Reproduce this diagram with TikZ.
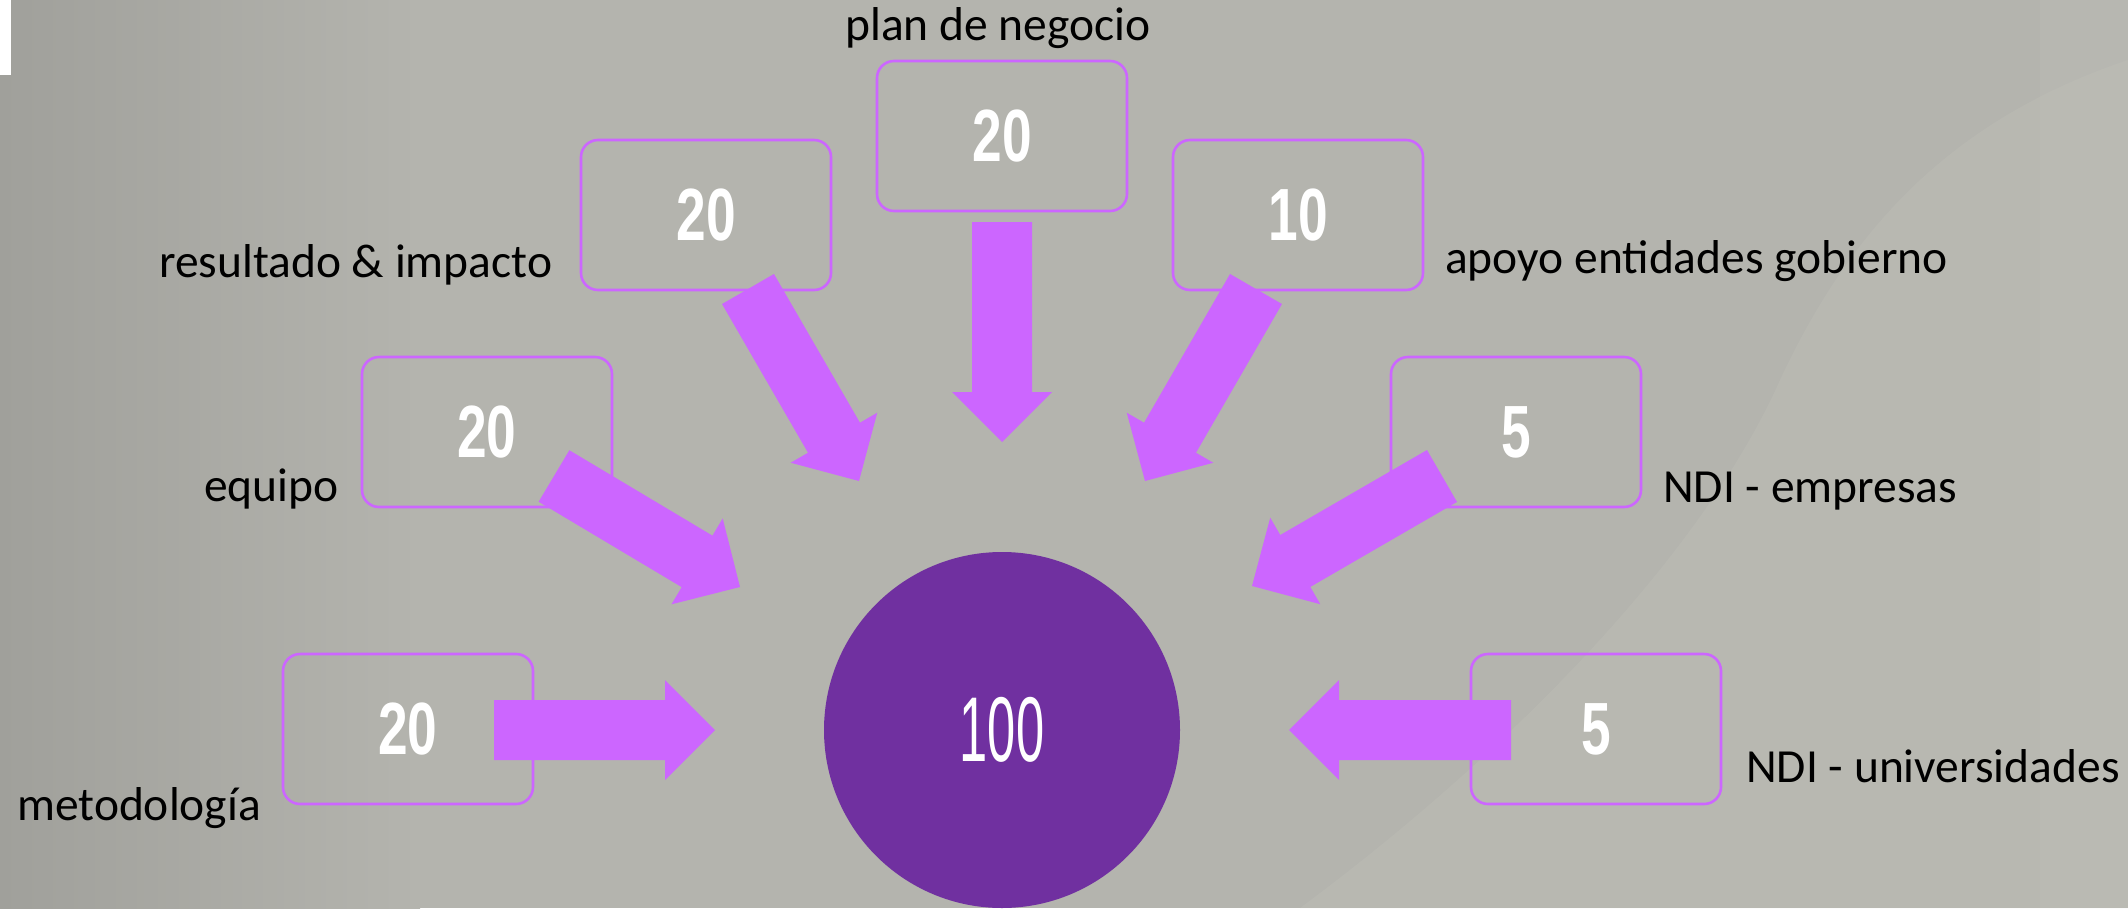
\documentclass[tikz,border=0pt]{standalone}
\usepackage{fontspec}
\setmainfont{Carlito}
\newfontfamily\boldnum[FakeStretch=0.72]{Liberation Sans}
\newfontfamily\thinnum[FakeStretch=0.55]{Liberation Sans}
\usetikzlibrary{calc}
\definecolor{violetline}{RGB}{204,102,255}
\definecolor{purplefill}{RGB}{112,48,160}
\definecolor{bgmid}{RGB}{180,180,174}
\definecolor{bgdark}{RGB}{160,160,155}
\definecolor{bglight}{RGB}{192,192,185}
\newcommand\blockarr[2]{%
  \coordinate (#1h) at ($(#2)!50pt!(#1)$);
  \fill[arrowfill] ($(#1)!30pt!90:(#2)$) -- ($(#1h)!30pt!-90:(#1)$) -- ($(#1h)!50pt!-90:(#1)$) -- (#2)
    -- ($(#1h)!50pt!90:(#1)$) -- ($(#1h)!30pt!90:(#1)$) -- ($(#1)!30pt!-90:(#2)$) -- cycle;}
\begin{document}
\begin{tikzpicture}[x=1pt,y=-1pt,
  scorebox/.style={draw=violetline, line width=2.6pt, rounded corners=17pt,
    minimum width=250pt, minimum height=150pt, inner sep=0pt, text=white,
    font=\boldnum\bfseries\fontsize{74}{80}\selectfont},
  arrowfill/.style={fill=violetline},
  total/.style={circle, fill=purplefill, minimum size=356pt, inner sep=0pt, text=white,
    font=\thinnum\fontsize{92}{100}\selectfont},
  label/.style={anchor=base west, inner sep=0pt, text=black,
    font=\fontsize{47.5}{57}\selectfont}]
% background
\fill[bgmid] (0,0) rectangle (2128,908);
\useasboundingbox (0,0) rectangle (2128,908);
\shade[left color=bgdark, right color=bgmid] (0,0) rectangle (420,908);
\fill[bglight, opacity=0.35] (1300,908) .. controls (1500,760) and (1700,560) .. (1780,380)
  .. controls (1850,230) and (1950,120) .. (2128,60) -- (2128,908) -- cycle;
\fill[bglight, opacity=0.3] (2040,0) rectangle (2128,908);
\fill[white] (0,0) rectangle (11,75);
% boxes
\node[scorebox] (bplan) at (1002,136) {20};
\node[scorebox] (bres) at (706,215) {20};
\node[scorebox] (bgov) at (1298,215) {10};
\node[scorebox] (beq) at (487,432) {20};
\node[scorebox] (bemp) at (1516,432) {5};
\node[scorebox] (bmet) at (408,729) {20};
\node[scorebox] (buni) at (1596,729) {5};
% total
\node[total] (tot) at (1002,730) {100};
% arrow ends
\coordinate (amet) at (494,730);  \coordinate (ametE) at (715,730);
\coordinate (aeq) at (554,476);   \coordinate (aeqE) at (740,587);
\coordinate (ares) at (748,289);  \coordinate (aresE) at (859,481);
\coordinate (aplan) at (1002,222); \coordinate (aplanE) at (1002,442);
\coordinate (agov) at (1256,289); \coordinate (agovE) at (1145,481);
\coordinate (aemp) at (1442,476); \coordinate (aempE) at (1252,586);
\coordinate (auni) at (1511,730); \coordinate (auniE) at (1289,730);
\blockarr{amet}{ametE}
\blockarr{aeq}{aeqE}
\blockarr{ares}{aresE}
\blockarr{aplan}{aplanE}
\blockarr{agov}{agovE}
\blockarr{aemp}{aempE}
\blockarr{auni}{auniE}
% labels
\node[label] (lplan) at (845,40) {plan de negocio};
\node[label] (lres) at (159,277) {resultado \& impacto};
\node[label] (lgov) at (1445,273) {apoyo entidades gobierno};
\node[label] (leq) at (204,501) {equipo};
\node[label] (lemp) at (1663,502) {NDI - empresas};
\node[label] (lmet) at (17,820) {metodología};
\node[label] (luni) at (1746,782) {NDI - universidades};
\end{tikzpicture}
\end{document}
